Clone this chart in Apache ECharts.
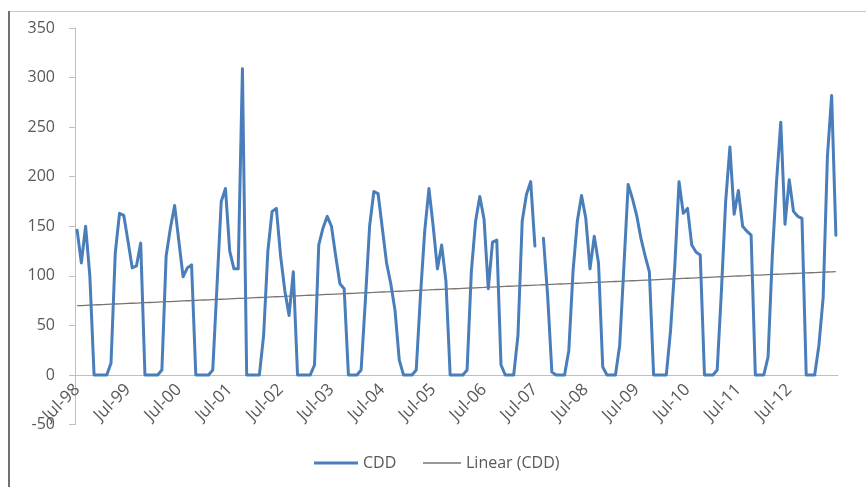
<!DOCTYPE html>
<html><head><meta charset="utf-8">
<script src="https://cdn.jsdelivr.net/npm/echarts@6/dist/echarts.min.js"></script>
<style>html,body{margin:0;padding:0;background:#fff}#c{width:866px;height:487px}</style>
</head><body><div id="c"></div>
<script>
// Monthly categories Jul-98 .. Jun-13
const monthNames = ['Jan','Feb','Mar','Apr','May','Jun','Jul','Aug','Sep','Oct','Nov','Dec'];
const startYear = 1998, startMonth = 6, nMonths = 180;
const categories = [];
for (let i = 0; i < nMonths; i++) {
  const m = (startMonth + i) % 12;
  const y = startYear + Math.floor((startMonth + i) / 12);
  categories.push(monthNames[m] + '-' + String(y % 100).padStart(2, '0'));
}
const tickLabels = ['Jul-98','Jul-99','Jul-00','Jul-01','Jul-02','Jul-03','Jul-04','Jul-05','Jul-06','Jul-07','Jul-08','Jul-09','Jul-10','Jul-11','Jul-12'];

// CDD values
const cdd = [
  146,113,150,100, 0,0,0,0, 12,123,163,161,
  135,108,110,133, 0,0,0,0, 5,120,148,171,
  135,99,108,111, 0,0,0,0, 5,90,175,188,
  125,107,107,309, 0,0,0,0, 40,125,165,168,
  120,85,60,104, 0,0,0,0, 10,131,148,160,
  150,120,92,87, 0,0,0,5, 75,150,185,183,
  148,113,92,65, 15,0,0,0, 5,80,145,188,
  150,107,131,95, 0,0,0,0, 5,104,155,180,
  157,87,134,136, 10,0,0,0, 40,155,182,195,
  130,null,138,80, 3,0,0,0, 25,105,155,181,
  158,107,140,113, 8,0,0,0, 30,110,192,178,
  161,138,120,104, 0,0,0,0, 45,110,195,163,
  168,131,124,121, 0,0,0,5, 85,175,230,162,
  186,150,145,141, 0,0,0,18, 120,195,255,152,
  197,165,160,158, 0,0,0,30, 78,220,282,141
];

// Linear trendline (least squares on non-empty points)
let sx=0, sy=0, sxx=0, sxy=0, n=0;
cdd.forEach((v,i)=>{ if(v!==null){ n++; sx+=i; sy+=v; sxx+=i*i; sxy+=i*v; } });
const slope = (n*sxy - sx*sy)/(n*sxx - sx*sx);
const icpt = (sy - slope*sx)/n;
const trend = cdd.map((v,i)=> +(icpt + slope*i).toFixed(2));

const yMin = -50, yMax = 350;
const gridTop = 28, gridBottom = 62.5, H = 487;
const plotH = H - gridTop - gridBottom;
// distance from bottom of grid to the zero line, so the category axis sits at 0
const zeroOffset = -plotH * (0 - yMin) / (yMax - yMin);

const BLUE = '#4a7ebb', GREY = '#7a7470', TXT = '#595959';
const chart = echarts.init(document.getElementById('c'), null, {renderer:'canvas'});
const FONT = 'Open Sans';
chart.setOption({
  animation: false,
  backgroundColor: '#fff',
  textStyle: { fontFamily: FONT },
  grid: { left: 75, right: 28, top: gridTop, bottom: gridBottom, containLabel: false },
  xAxis: {
    type: 'category',
    data: categories,
    boundaryGap: true,
    offset: zeroOffset,
    axisLine: { onZero: false, lineStyle: { color: '#bfbfbf', width: 1 } },
    axisTick: { interval: 11, length: 5, lineStyle: { color: '#bfbfbf' } },
    axisLabel: {
      interval: 11, rotate: 45, margin: 12, color: TXT, fontSize: 17, fontFamily: FONT,
      formatter: (v, idx) => (idx % 12 === 0 ? tickLabels[idx / 12] : '')
    },
    splitLine: { show: false }
  },
  yAxis: {
    type: 'value', min: yMin, max: yMax, interval: 50,
    axisLine: { show: true, lineStyle: { color: '#bfbfbf', width: 1 } },
    axisTick: { show: true, length: 6, lineStyle: { color: '#bfbfbf' } },
    axisLabel: { margin: 20, color: TXT, fontSize: 16, fontFamily: FONT },
    splitLine: { show: false }
  },
  legend: [
    {
      left: 314, top: 455, padding: 0, itemWidth: 44, itemHeight: 3,
      textStyle: { color: TXT, fontSize: 16, fontFamily: FONT },
      data: [{ name: 'CDD', icon: 'rect', itemStyle: { color: BLUE } }]
    },
    {
      left: 423, top: 455, padding: 0, itemWidth: 38, itemHeight: 1.3,
      textStyle: { color: TXT, fontSize: 16, fontFamily: FONT },
      data: [{ name: 'Linear (CDD)', icon: 'rect', itemStyle: { color: GREY } }]
    }
  ],
  graphic: [
    { type: 'line', silent: true, shape: { x1: 8, y1: 11.5, x2: 866, y2: 11.5 }, style: { stroke: '#c8c8c8', lineWidth: 1 } },
    { type: 'line', silent: true, shape: { x1: 9, y1: 11, x2: 9, y2: 487 }, style: { stroke: '#707070', lineWidth: 2 } }
  ],
  series: [
    {
      name: 'CDD', type: 'line', data: cdd, symbol: 'none', connectNulls: false,
      lineStyle: { color: BLUE, width: 3, join: 'round', cap: 'round' },
      itemStyle: { color: BLUE }, z: 3
    },
    {
      name: 'Linear (CDD)', type: 'line', data: trend, symbol: 'none',
      lineStyle: { color: GREY, width: 1.3 },
      itemStyle: { color: GREY }, z: 2
    }
  ]
});
</script></body></html>
